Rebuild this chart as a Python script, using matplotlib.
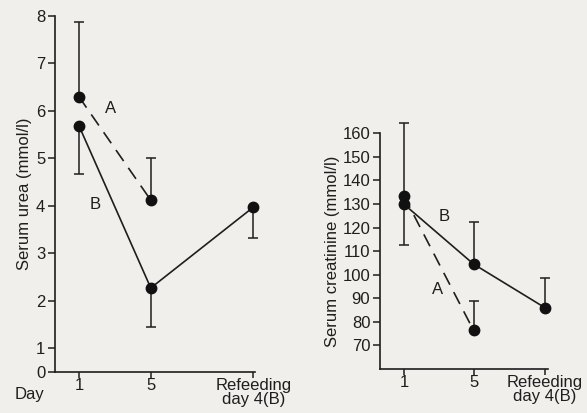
import matplotlib
matplotlib.use('Agg')
import matplotlib.pyplot as plt

plt.rcParams['font.family'] = ['Liberation Sans', 'DejaVu Sans']

# x positions (days) of the three time points, as spaced in each panel
urea_x = [1, 5, 10.7]
creat_x = [1, 5, 9.1]
tick_labels = ['1', '5', 'Refeeding\nday 4(B)']

# Serum urea (mmol/l)
urea_a = [6.30, 4.12]
urea_a_err = [1.57, 0.89]          # upper bars
urea_b = [5.69, 2.27, 3.97]
urea_b_err = [1.02, 0.82, 0.64]    # lower bars

# Serum creatinine
creat_a = [133.4, 76.4]
creat_a_err = [30.8, 12.6]         # upper bars
creat_b = [129.9, 104.5, 86.0]
creat_b_lo = [17.2, 0, 0]
creat_b_hi = [0, 17.9, 12.5]

BG = '#f1efeb'
INK = '#1e1e1e'
FS = 12

fig = plt.figure(figsize=(5.87, 4.13), dpi=100, facecolor=BG)


def style_axes(ax, xs):
    ax.set_facecolor(BG)
    for s in ('top', 'right'):
        ax.spines[s].set_visible(False)
    for s in ('left', 'bottom'):
        ax.spines[s].set_color(INK)
        ax.spines[s].set_linewidth(1.2)
    ax.set_xticks(xs)
    ax.set_xticklabels(tick_labels, fontsize=FS, color=INK, linespacing=0.95)
    ax.tick_params(axis='both', colors=INK, labelcolor=INK, length=5, width=1.1, labelsize=FS)
    ax.tick_params(axis='x', pad=0, length=4)
    ax.tick_params(axis='y', pad=2)


def draw_series(ax, xs, ys, lo, hi, dashed=False):
    ls = (0, (8, 5)) if dashed else '-'
    ax.errorbar(xs[:len(ys)], ys, yerr=[lo, hi], fmt='none', ecolor=INK,
                elinewidth=1.1, capsize=3.5, capthick=1.1, clip_on=False, zorder=2)
    ax.plot(xs[:len(ys)], ys, color=INK, lw=1.2, ls=ls, marker='o', ms=7.5,
            mfc='#111111', mec='#111111', clip_on=False, zorder=3)


# left panel: urea
ax1 = fig.add_axes([0.0937, 0.0993, 0.3407, 0.862])
style_axes(ax1, urea_x)
ax1.set_xlim(-0.33, 10.8)
ax1.set_ylim(0.5, 8)
ax1.set_yticks([0.5, 1, 2, 3, 4, 5, 6, 7, 8])
ax1.set_yticklabels(['0', '1', '2', '3', '4', '5', '6', '7', '8'])
ax1.set_ylabel('Serum urea (mmol/l)', fontsize=FS, color=INK, labelpad=3)
draw_series(ax1, urea_x, urea_a, [0, 0], urea_a_err, dashed=True)
draw_series(ax1, urea_x, urea_b, urea_b_err, [0, 0, 0])
ax1.text(2.78, 6.05, 'A', fontsize=FS, color=INK, ha='center', va='center')
ax1.text(1.9, 4.03, 'B', fontsize=FS, color=INK, ha='center', va='center')
fig.text(30 / 587, 1 - 395 / 413, 'Day', fontsize=FS, color=INK, ha='center', va='center')

# right panel: creatinine
ax2 = fig.add_axes([0.6474, 0.1065, 0.286, 0.571])
style_axes(ax2, creat_x)
ax2.set_xlim(-0.37, 9.27)
ax2.set_ylim(60, 160)
ax2.set_yticks(range(70, 161, 10))
ax2.set_ylabel('Serum creatinine (mmol/l)', fontsize=FS, color=INK, labelpad=2)
draw_series(ax2, creat_x, creat_a, [0, 0], creat_a_err, dashed=True)
draw_series(ax2, creat_x, creat_b, creat_b_lo, creat_b_hi)
ax2.text(3.34, 124.5, 'B', fontsize=FS, color=INK, ha='center', va='center')
ax2.text(2.94, 93.7, 'A', fontsize=FS, color=INK, ha='center', va='center')

fig.savefig('out.png', dpi=100, facecolor=BG)
